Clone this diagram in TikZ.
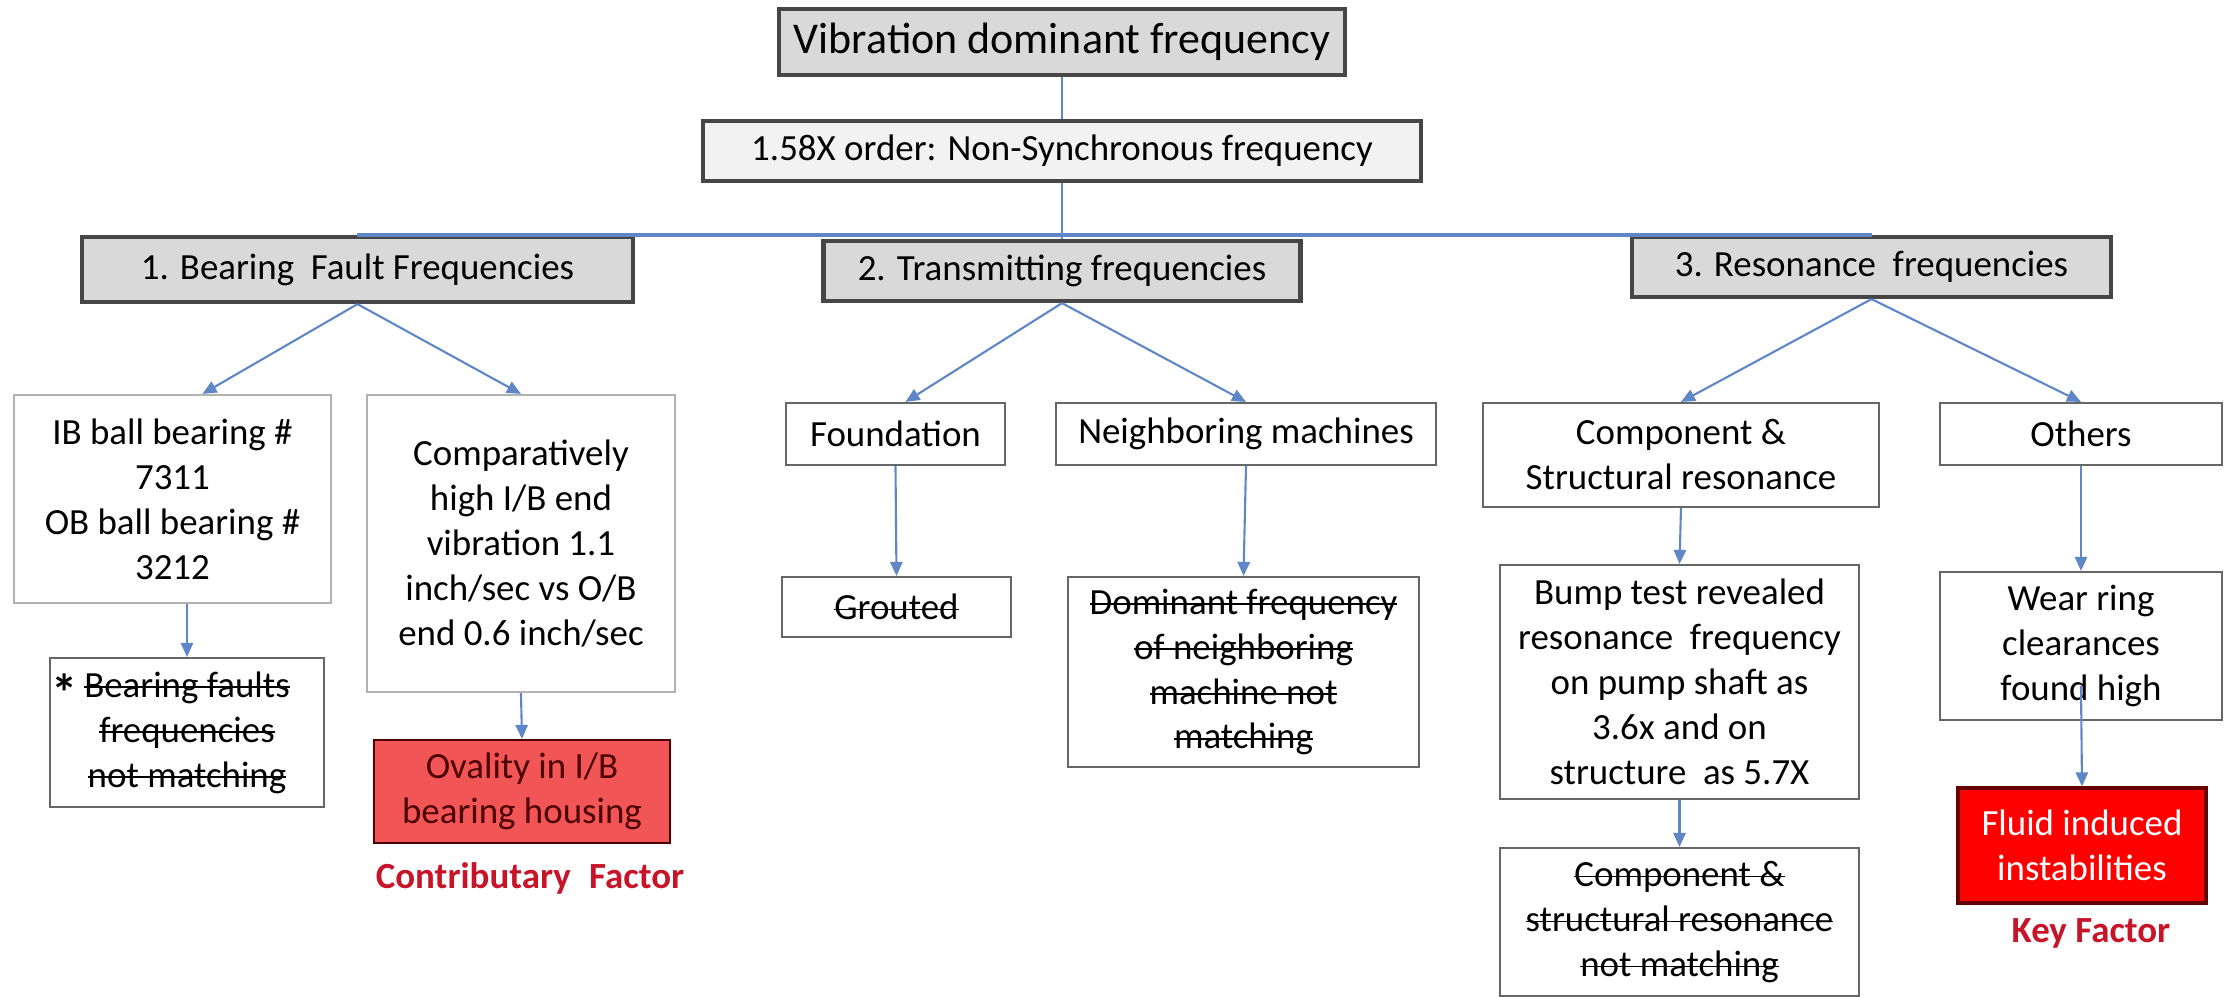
\documentclass[tikz,border=0pt]{standalone}
\usepackage{fontspec}
\setmainfont{Carlito}
\usetikzlibrary{arrows.meta}

\newcommand{\strk}[1]{\leavevmode\setbox0\hbox{#1}\rlap{\rule[0.25em]{\wd0}{0.45pt}}\box0}

\definecolor{linec}{RGB}{95,135,200}
\definecolor{hdgray}{RGB}{217,217,217}
\definecolor{ltgray}{RGB}{242,242,242}
\definecolor{bordr}{RGB}{70,70,70}
\definecolor{ovalred}{RGB}{242,85,85}
\definecolor{factred}{RGB}{200,20,40}

\tikzset{hb/.style={draw=bordr, line width=1.2pt, fill=hdgray, inner sep=0pt, font=\fontsize{10.5}{12.8}\selectfont},
wb/.style={draw=gray!80!black, line width=0.6pt, fill=white, inner sep=0pt, align=center, font=\fontsize{10.5}{12.8}\selectfont},
ln/.style={draw=linec, line width=0.6pt},
lbl/.style={text=factred, font=\bfseries\fontsize{10.5}{12}\selectfont}}

\begin{document}
\begin{tikzpicture}[>={Triangle[width=3.5pt,length=4pt]}]
    \useasboundingbox (-10.62,0.42) rectangle (11.67,-9.55);

    \node[hb, minimum width=5.66cm, minimum height=0.66cm, font=\fontsize{12.5}{15}\selectfont] (top) at (0,0) {Vibration dominant frequency};

    \node[hb, fill=ltgray, minimum width=7.18cm, minimum height=0.6cm] (order) at ([yshift=-1.09cm] top) {1.58X order: Non-Synchronous frequency};

    \node[hb, minimum width=5.51cm, minimum height=0.65cm] (bearing) at ([yshift=-2.275cm, xshift=-7.045cm] top) {1. Bearing~ Fault Frequencies};
    \node[hb, minimum width=4.77cm, minimum height=0.6cm] (transmit) at ([yshift=-2.29cm] top) {2. Transmitting frequencies};
    \node[hb, minimum width=4.79cm, minimum height=0.6cm] (reson) at ([yshift=-2.25cm, xshift=8.095cm] top) {3. Resonance~ frequencies};

    \node[wb, draw=gray!60, minimum width=3.17cm, minimum height=2.08cm] (ib) at ([yshift=-4.57cm, xshift=-8.895cm] top) {IB ball bearing \#\\7311\\OB ball bearing \#\\3212};
    \node[wb, draw=gray!60, minimum width=3.08cm, minimum height=2.97cm] (comp) at ([yshift=-5.015cm, xshift=-5.41cm] top) {Comparatively\\high I/B end\\vibration 1.1\\inch/sec vs O/B\\end 0.6 inch/sec};
    \node[wb, minimum width=2.19cm, minimum height=0.62cm] (found) at ([yshift=-3.92cm, xshift=-1.665cm] top) {Foundation};
    \node[wb, minimum width=3.8cm, minimum height=0.62cm] (neigh) at ([yshift=-3.92cm, xshift=1.84cm] top) {Neighboring machines};
    \node[wb, minimum width=3.96cm, minimum height=1.04cm] (compres) at ([yshift=-4.13cm, xshift=6.19cm] top) {Component \&\\Structural resonance};
    \node[wb, minimum width=2.82cm, minimum height=0.62cm] (others) at ([yshift=-3.92cm, xshift=10.19cm] top) {Others};

    \node[wb, minimum width=2.74cm, minimum height=1.49cm] (faults) at ([yshift=-6.905cm, xshift=-8.75cm] top) {\llap{\raisebox{-4pt}{\bfseries\fontsize{15}{15}\selectfont *}\,}\strk{Bearing faults}\\\strk{frequencies}\\\strk{not matching}};
    \node[wb, draw=black!70!red, fill=ovalred, text={black!70!red}, minimum width=2.96cm, minimum height=1.03cm] (oval) at ([yshift=-7.495cm, xshift=-5.4cm] top) {Ovality in I/B\\bearing housing};
    \node[wb, minimum width=2.29cm, minimum height=0.6cm] (grout) at ([yshift=-5.65cm, xshift=-1.655cm] top) {\strk{Grouted}};
    \node[wb, minimum width=3.51cm, minimum height=1.9cm] (dom) at ([yshift=-6.3cm, xshift=1.815cm] top) {\strk{Dominant frequency}\\\strk{of neighboring}\\\strk{machine not}\\\strk{matching}};
    \node[wb, minimum width=3.59cm, minimum height=2.34cm] (bump) at ([yshift=-6.4cm, xshift=6.175cm] top) {Bump test revealed\\resonance~ frequency\\on pump shaft as\\3.6x and on\\structure~ as 5.7X};
    \node[wb, minimum width=2.82cm, minimum height=1.48cm] (wear) at ([yshift=-6.04cm, xshift=10.19cm] top) {Wear ring\\clearances\\found high};

    \node[wb, minimum width=3.59cm, minimum height=1.48cm] (compno) at ([yshift=-8.8cm, xshift=6.175cm] top) {\strk{Component \&}\\\strk{structural resonance}\\\strk{not matching}};
    \node[wb, draw=black!60!red, line width=0.9pt, fill=red, text=white, minimum width=2.48cm, minimum height=1.15cm] (fluid) at ([yshift=-8.035cm, xshift=10.2cm] top) {Fluid induced\\instabilities};

    \node[lbl] (contrib) at ([yshift=-8.36cm, xshift=-5.32cm] top) {Contributary\enspace Factor};
    \node[lbl] (keyf) at ([yshift=-8.91cm, xshift=10.29cm] top) {Key Factor};

    % main stem
    \draw[ln] (top.south) -- (order.north);
    \draw[ln] (order.south) -- (transmit.north);
    \draw[ln, line width=1.2pt] (bearing.north) -- (reson.north);

    % branches
    \draw[ln, ->] (bearing.south) -- ([xshift=0.3cm]ib.north);
    \draw[ln, ->] (bearing.south) -- (comp.north);
    \draw[ln, ->] (transmit.south) -- ([xshift=0.1cm]found.north);
    \draw[ln, ->] (transmit.south) -- (neigh.north);
    \draw[ln, ->] (reson.south) -- (compres.north);
    \draw[ln, ->] (reson.south) -- (others.north);

    \draw[ln, ->] (faults.north |- ib.south) -- (faults.north);
    \draw[ln, ->] (comp.south) -- (oval.north);
    \draw[ln, ->] (found.south) -- (grout.north);
    \draw[ln, ->] (neigh.south) -- (dom.north);
    \draw[ln, ->] (compres.south) -- (bump.north);
    \draw[ln, ->] (bump.south) -- (compno.north);
    \draw[ln, ->] (others.south) -- (wear.north);
    \draw[ln, ->] ([yshift=0.35cm]wear.south) -- (fluid.north);
\end{tikzpicture}
\end{document}
